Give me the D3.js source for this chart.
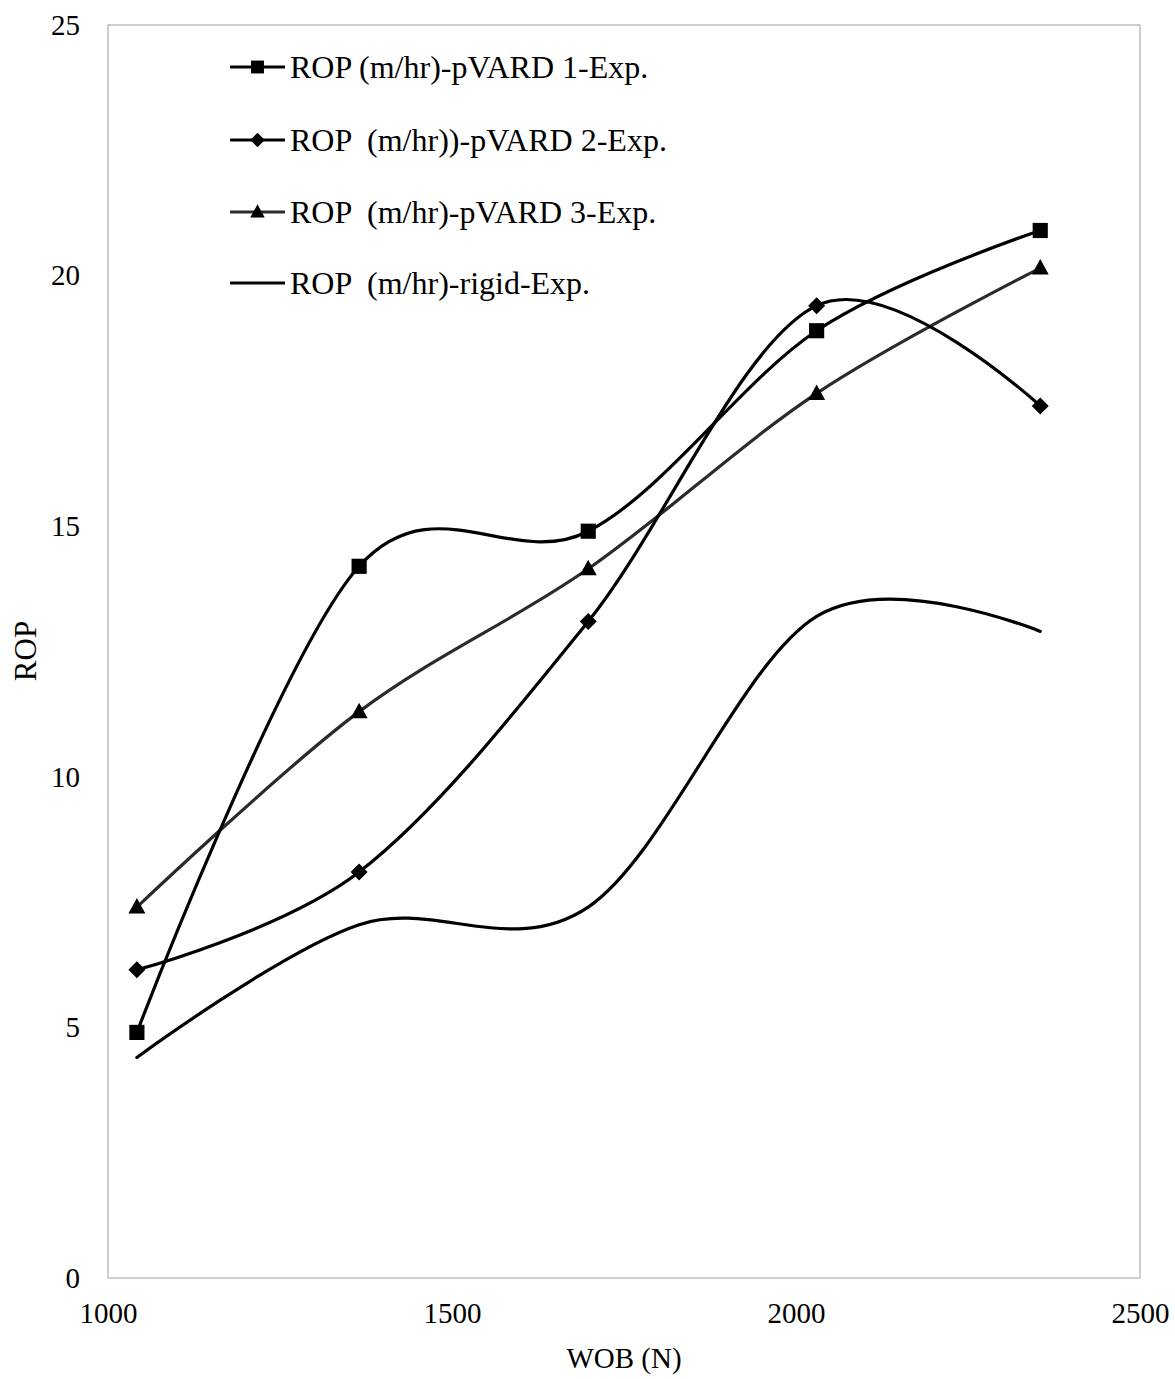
<!DOCTYPE html>
<html>
<head>
<meta charset="utf-8">
<script src="https://cdn.jsdelivr.net/npm/d3@7"></script>
<style>
  html, body { margin: 0; padding: 0; background: #fff; }
  svg { display: block; }
  text { font-family: "Liberation Serif", "Times New Roman", serif; fill: #000; }
</style>
</head>
<body>
<svg id="chart" width="1175" height="1379"></svg>
<script>
// Weight on bit (N) at which ROP was measured
const wob = [1042, 1365, 1698, 2030, 2355];

// Rate of penetration (m/hr) for each bit configuration
const ropPvard1 = [4.9, 14.2, 14.9, 18.9, 20.9];
const ropPvard2 = [6.15, 8.1, 13.1, 19.4, 17.4];
const ropPvard3 = [7.4, 11.3, 14.15, 17.65, 20.15];
const ropRigid  = [4.4, 7.05, 7.4, 13.2, 12.9];

const seriesNames = [
  "ROP (m/hr)-pVARD 1-Exp.",
  "ROP  (m/hr))-pVARD 2-Exp.",
  "ROP  (m/hr)-pVARD 3-Exp.",
  "ROP  (m/hr)-rigid-Exp."
];

const xTicks = [1000, 1500, 2000, 2500];
const yTicks = [0, 5, 10, 15, 20, 25];

const series = [
  { name: seriesNames[0], values: ropPvard1, marker: "square",   color: "#000000" },
  { name: seriesNames[1], values: ropPvard2, marker: "diamond",  color: "#000000" },
  { name: seriesNames[2], values: ropPvard3, marker: "triangle", color: "#2b2b2b" },
  { name: seriesNames[3], values: ropRigid,  marker: null,       color: "#000000" }
];

const svg = d3.select("#chart");
const plot = { left: 108, right: 1140, top: 25, bottom: 1278 };

const x = d3.scaleLinear().domain([1000, 2500]).range([plot.left, plot.right]);
const y = d3.scaleLinear().domain([0, 25]).range([plot.bottom, plot.top]);

// plot frame
svg.append("rect")
  .attr("x", plot.left).attr("y", plot.top)
  .attr("width", plot.right - plot.left).attr("height", plot.bottom - plot.top)
  .attr("fill", "none").attr("stroke", "#bfbfbf").attr("stroke-width", 1.5);

// axes (labels only, no tick marks or domain lines)
const yAxis = svg.append("g")
  .attr("transform", `translate(${plot.left},0)`)
  .call(d3.axisLeft(y).tickValues(yTicks).tickSize(0).tickPadding(28).tickFormat(d3.format("d")));
yAxis.select(".domain").remove();
yAxis.selectAll("text").attr("font-size", 29).attr("font-family", "Liberation Serif").attr("fill", "#000");

const xAxis = svg.append("g")
  .attr("transform", `translate(0,${plot.bottom})`)
  .call(d3.axisBottom(x).tickValues(xTicks).tickSize(0).tickPadding(24).tickFormat(d3.format("d")));
xAxis.select(".domain").remove();
xAxis.selectAll("text").attr("font-size", 29).attr("font-family", "Liberation Serif").attr("fill", "#000");

// axis titles
svg.append("text")
  .attr("x", (plot.left + plot.right) / 2).attr("y", 1368)
  .attr("text-anchor", "middle").attr("font-size", 29)
  .text("WOB (N)");

svg.append("text")
  .attr("transform", "translate(36,651) rotate(-90)")
  .attr("text-anchor", "middle").attr("font-size", 31)
  .text("ROP");

// marker shapes
const markerPath = {
  square:   d3.symbol().type(d3.symbolSquare).size(230)(),
  diamond:  "M0,-8.5L8.5,0L0,8.5L-8.5,0Z",
  triangle: "M0,-9L8.5,6.5L-8.5,6.5Z"
};

const line = d3.line()
  .x((d, i) => x(wob[i]))
  .y(d => y(d))
  .curve(d3.curveCardinal.tension(0));

// draw series in reverse so the first series sits on top
series.slice().reverse().forEach(s => {
  const g = svg.append("g");
  g.append("path")
    .datum(s.values)
    .attr("d", line)
    .attr("fill", "none")
    .attr("stroke", s.color)
    .attr("stroke-width", 3.2)
    .attr("stroke-linecap", "round");
  if (s.marker) {
    g.selectAll("path.m")
      .data(s.values)
      .join("path")
      .attr("class", "m")
      .attr("d", markerPath[s.marker])
      .attr("transform", (d, i) => `translate(${x(wob[i])},${y(d)})`)
      .attr("fill", "#000");
  }
});

// legend
const legendY = [67, 140, 212, 283];
const legend = svg.append("g");
series.forEach((s, i) => {
  const g = legend.append("g").attr("transform", `translate(0,${legendY[i]})`);
  g.append("line")
    .attr("x1", 230).attr("x2", 285).attr("y1", 0).attr("y2", 0)
    .attr("stroke", s.color).attr("stroke-width", 3.2);
  if (s.marker) {
    g.append("path")
      .attr("d", markerPath[s.marker])
      .attr("transform", `translate(257.5,0) scale(0.85)`)
      .attr("fill", "#000");
  }
  g.append("text")
    .attr("x", 290).attr("y", 0).attr("dy", "0.35em")
    .attr("font-size", 32)
    .style("white-space", "pre")
    .text(s.name);
});
</script>
</body>
</html>
